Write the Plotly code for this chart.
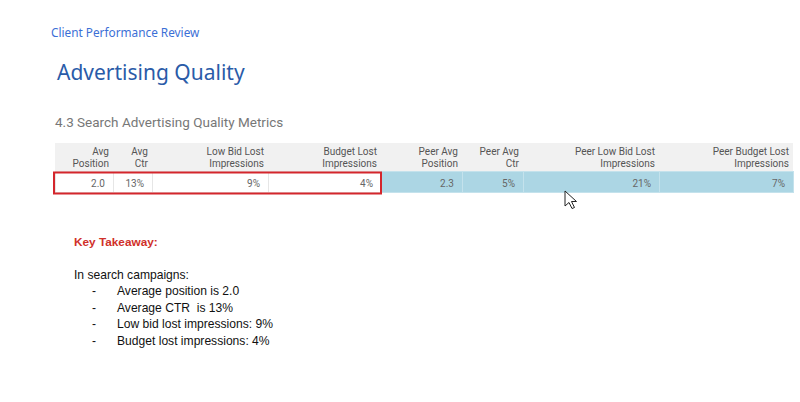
import plotly.graph_objects as go

header_top = ["Avg", "Avg", "Low Bid Lost", "Budget Lost", "Peer Avg", "Peer Avg", "Peer Low Bid Lost", "Peer Budget Lost"]
header_bottom = ["Position", "Ctr", "Impressions", "Impressions", "Position", "Ctr", "Impressions", "Impressions"]
values = ["2.0", "13%", "9%", "4%", "2.3", "5%", "21%", "7%"]
col_widths = [58, 39, 116, 113, 81, 61, 136, 134]

takeaway_lines = ["Average position is 2.0", "Average CTR  is 13%",
                  "Low bid lost impressions: 9%", "Budget lost impressions: 4%"]

W, H = 800, 402
def px(x): return x / W
def py(y): return 1 - y / H

cell_fill = ["#ffffff"] * 4 + ["#acd6e4"] * 4
cell_line = ["#e6e6e6"] * 4 + ["#c4e2ec"] * 4

fig = go.Figure()

# header background
fig.add_shape(type="rect", xref="paper", yref="paper", layer="below",
              x0=px(55), x1=px(793), y0=py(171), y1=py(143),
              fillcolor="#f1f1f1", line=dict(width=0))

# header labels (two single-line rows, right aligned)
fig.add_trace(go.Table(
    domain=dict(x=[px(59), px(797)], y=[0.2, py(139)]),
    columnwidth=col_widths,
    header=dict(values=[[t, b] for t, b in zip(header_top, header_bottom)],
                fill_color="rgba(0,0,0,0)", line_color="rgba(0,0,0,0)", line_width=0,
                align="right", height=12,
                font=dict(family="Roboto", size=10, color="#555555")),
    cells=dict(values=[[] for _ in header_top]),
))

# data row
fig.add_trace(go.Table(
    domain=dict(x=[px(55), px(793)], y=[0.2, py(171)]),
    columnwidth=col_widths,
    header=dict(values=values, fill_color=cell_fill,
                line_color=cell_line, line_width=1,
                align="right", height=21,
                font=dict(family="Roboto", size=10, color="#666666")),
    cells=dict(values=[[] for _ in values]),
))

fig.add_shape(type="rect", xref="paper", yref="paper",
              x0=px(54), x1=px(381), y0=py(193.5), y1=py(172.5),
              line=dict(color="#d4262c", width=2))

# mouse cursor
cur = [(565, 191), (565, 206), (569, 202.5), (572, 208.5), (574.5, 207.5), (571.5, 201.5), (576.5, 201.5)]
path = "M " + " L ".join(f"{px(x):.5f},{py(y):.5f}" for x, y in cur) + " Z"
fig.add_shape(type="path", xref="paper", yref="paper", path=path,
              fillcolor="#ffffff", line=dict(color="#222222", width=1))

def ann(text, x, y, size, color, family, bold=False):
    if bold:
        text = "<b>" + text + "</b>"
    fig.add_annotation(text=text, x=px(x), y=py(y), xref="paper", yref="paper",
                       xanchor="left", yanchor="middle", showarrow=False,
                       font=dict(size=size, color=color, family=family))

ann("Client Performance Review", 49, 32, 11.8, "#3b6fd6", "Noto Sans")
ann("Advertising Quality", 55, 72, 21, "#2a5ba8", "Noto Sans")
ann("4.3 Search Advertising Quality Metrics", 53, 122, 13.5, "#777777", "Roboto")
ann("Key Takeaway:", 72, 242, 11.8, "#d0302a", "Liberation Sans", bold=True)
ann("In search campaigns:", 72, 275, 12.1, "#111111", "Liberation Sans")
for i, line in enumerate(takeaway_lines):
    y = 291 + i * 16.5
    ann("-", 90, y, 12.1, "#111111", "Liberation Sans")
    ann(line, 115, y, 12.1, "#111111", "Liberation Sans")

fig.update_layout(width=W, height=H, margin=dict(l=0, r=0, t=0, b=0),
                  paper_bgcolor="#ffffff", plot_bgcolor="#ffffff")
fig.write_html("out.html", config={"displayModeBar": False},
               post_script="document.body.style.margin='0';")
